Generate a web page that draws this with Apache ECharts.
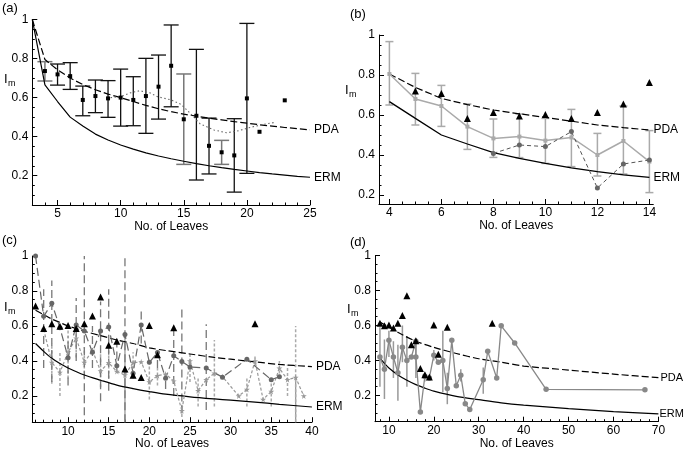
<!DOCTYPE html>
<html><head><meta charset="utf-8">
<script src="https://cdn.jsdelivr.net/npm/echarts@6/dist/echarts.min.js"></script>
<style>html,body{margin:0;padding:0;background:#fff}#c{width:685px;height:453px}</style>
</head><body><div id="c"></div>
<script>
// ---------- Panel (a) ----------
const aX    = [4,5,6,7,8,9,10,11,12,13,14,15,16,17,18,19,20,21,23];
const aMean = [0.736,0.719,0.71,0.588,0.608,0.596,0.6,0.588,0.608,0.656,0.763,0.489,0.507,0.353,0.32,0.304,0.596,0.425,0.586];
const aBarX    = [4,5,6,7,8,9,10,11,12,13,14,15,16,17,18,19,20];
const aBarLow  = [0.685,0.664,0.642,0.507,0.523,0.499,0.454,0.456,0.417,0.49,0.553,0.258,0.178,0.209,0.258,0.116,0.212];
const aBarHigh = [0.784,0.772,0.779,0.659,0.69,0.687,0.746,0.707,0.801,0.818,0.972,0.721,0.847,0.495,0.381,0.492,0.98];
const aGrayBarX = [4,15,18];
const aCurveX = [3,4,5,6,7,8,9,10,11,12,13,14,15,16,17,18,19,20,21,22,23,24,25];
const aErm = [1.0,0.665,0.58,0.5,0.455,0.413,0.383,0.357,0.336,0.317,0.301,0.287,0.274,0.262,0.251,0.241,0.232,0.224,0.216,0.209,0.203,0.197,0.192];
const aPda = [1.0,0.795,0.742,0.7,0.667,0.64,0.618,0.6,0.58,0.56,0.543,0.528,0.515,0.505,0.495,0.486,0.477,0.469,0.461,0.454,0.447,0.441,0.435];
const aDotX = [9.2,10,10.8,11.5,12.3,12.9,14,14.8,15.5,16.3,17.4,18.4,19.2,20.3,21.3,22.3];
const aDot  = [0.6,0.605,0.625,0.635,0.625,0.605,0.588,0.565,0.52,0.465,0.434,0.42,0.428,0.448,0.463,0.474];

// ---------- Panel (b) ----------
const bX = [4,5,6,7,8,9,10,11,12,13,14];
const bGray     = [0.805,0.68,0.645,0.542,0.483,0.492,0.472,0.488,0.40,0.47,0.367];
const bGrayLow  = [0.65,0.55,0.543,0.428,0.388,0.387,0.358,0.342,0.295,0.305,0.212];
const bGrayHigh = [0.967,0.808,0.748,0.655,0.58,0.605,0.583,0.628,0.508,0.645,0.522];
const bDotX = [8,9,10,11,12,13,14];
const bDot  = [0.408,0.45,0.442,0.517,0.235,0.355,0.375];
const bTriX = [5,6,7,8,9,10,11,12,13,14];
const bTri  = [0.72,0.708,0.583,0.612,0.595,0.603,0.583,0.612,0.655,0.762];
const bErm = [0.667,0.583,0.5,0.455,0.412,0.383,0.358,0.336,0.317,0.301,0.288];
const bPda = [0.805,0.738,0.683,0.652,0.625,0.606,0.588,0.569,0.55,0.537,0.525];

// ---------- Panel (c) ----------
const cTriX = [6,7,8,9,10,11,12,13,14,15,16,17,18,19,20,21,23,33];
const cTri  = [0.714,0.585,0.613,0.598,0.603,0.585,0.613,0.657,0.765,0.49,0.512,0.354,0.318,0.305,0.603,0.435,0.59,0.613];
const cDotX = [6,7,8,9,10,11,12,13,14,15,16,17,18,19,20,21,22,23,24,25,27,29,32,35,36];
const cDot  = [1.0,0.655,0.73,0.59,0.419,0.606,0.571,0.45,0.571,0.594,0.373,0.552,0.33,0.606,0.392,0.448,0.301,0.43,0.397,0.366,0.36,0.307,0.41,0.293,0.31];
const cDotBarX = [7,8,10,11,12,13,14,15,16,17,19,21,22,23,24,27];
const cDotBarLow  = [0.36,0.28,0.26,0.40,0.09,0.36,0.17,0.23,0.34,0.05,0.50,0.36,0.24,0.20,0.10,0.12];
const cDotBarHigh = [0.81,0.86,0.54,0.76,1.00,0.60,0.74,0.81,0.53,0.99,0.70,0.46,0.33,0.60,0.71,0.61];
const cStarX = [7,8,9,10,11,12,13,14,15,16,17,18,19,20,21,22,23,24,25,26,27,28,29,31,32,33,34,35,36,37,38,39];
const cStar  = [0.58,0.392,0.335,0.45,0.53,0.392,0.46,0.343,0.39,0.34,0.32,0.39,0.395,0.28,0.316,0.325,0.285,0.116,0.4,0.23,0.293,0.33,0.31,0.2,0.237,0.40,0.18,0.226,0.358,0.293,0.306,0.2];
const cStarBarX = [8,9,10,11,12,14,15,18,20,21,24,25,26,28,32,33,35,36,37,38];
const cStarBarLow  = [0.27,0.20,0.30,0.42,0.30,0.25,0.30,0.30,0.18,0.26,0.08,0.28,0.14,0.14,0.14,0.38,0.14,0.30,0.20,0.05];
const cStarBarHigh = [0.50,0.45,0.60,0.62,0.48,0.45,0.47,0.45,0.40,0.36,0.15,0.45,0.30,0.52,0.30,0.43,0.30,0.40,0.38,0.60];
const cSolidBarX = [17,38];
const cSolidBarLow = [0.05,0.05];
const cSolidBarHigh = [0.55,0.306];
const cCurveX = [6,7,8,9,10,12,14,16,18,20,22,25,28,30,33,36,40];
const cErm = [0.5,0.455,0.415,0.385,0.36,0.32,0.29,0.262,0.242,0.225,0.21,0.195,0.183,0.176,0.165,0.152,0.137];
const cPda = [0.69,0.665,0.64,0.62,0.6,0.57,0.545,0.52,0.5,0.475,0.46,0.44,0.42,0.41,0.395,0.38,0.368];

// ---------- Panel (d) ----------
const dTriX = [8,9,10,11,12,13,14,15,16,17,18,19,20,21,23,33];
const dTri  = [0.613,0.598,0.603,0.585,0.613,0.657,0.77,0.49,0.512,0.354,0.318,0.305,0.603,0.435,0.59,0.613];
const dGrayX = [8,9,10,11,12,13,14,15,16,16,17,18,19,20,21,22,23,24,25,26,27,28,31,32,34,35,38,45,67];
const dGray  = [0.42,0.35,0.515,0.42,0.33,0.475,0.40,0.42,0.51,0.42,0.105,0.31,0.30,0.43,0.39,0.40,0.24,0.515,0.255,0.315,0.152,0.12,0.29,0.452,0.30,0.598,0.5,0.235,0.232];
const dBarX = [8,9,10,11,12,13,14,16,18,20,22,23,26,31];
const dBarLow  = [0.25,0.18,0.42,0.30,0.17,0.39,0.25,0.30,0.28,0.40,0.22,0.15,0.28,0.21];
const dBarHigh = [0.59,0.52,0.57,0.51,0.49,0.60,0.54,0.50,0.33,0.46,0.57,0.33,0.35,0.36];
const dErmX = [8,9,10,12,14,16,18,20,25,30,35,40,50,60,70];
const dErm  = [0.413,0.383,0.357,0.317,0.287,0.262,0.242,0.225,0.195,0.176,0.158,0.145,0.125,0.108,0.095];
const dPdaX = [8,10,13,16,20,25,30,35,40,50,60,70];
const dPda  = [0.62,0.59,0.547,0.51,0.475,0.44,0.41,0.39,0.368,0.345,0.322,0.302];

// ---------- tick positions ----------
const aXMajor = [5,10,15,20,25];
const aXMinor = [4,6,7,8,9,11,12,13,14,16,17,18,19,21,22,23,24];
const bXMajor = [4,6,8,10,12,14];
const bXMinor = [4.5,5,5.5,6.5,7,7.5,8.5,9,9.5,10.5,11,11.5,12.5,13,13.5];
const cXMajor = [10,15,20,25,30,35,40];
const cXMinor = [6,7,8,9,11,12,13,14,16,17,18,19,21,22,23,24,26,27,28,29,31,32,33,34,36,37,38,39];
const dXMajor = [10,20,30,40,50,60,70];
const dXMinor = [8,12,14,16,18,22,24,26,28,32,34,36,38,42,44,46,48,52,54,56,58,62,64,66,68];
const yMajor = [0.2,0.4,0.6,0.8,1];
const yMinor = [0.05,0.1,0.15,0.25,0.3,0.35,0.45,0.5,0.55,0.65,0.7,0.75,0.85,0.9,0.95];

const FONT = '"Liberation Sans", Arial, Helvetica, sans-serif';
const xy = (xs, ys) => xs.map((x, i) => [x, ys[i]]);
const bars = (xs, lo, hi) => xs.map((x, i) => [x, lo[i], hi[i]]);

const grids = [
  {left: 32.3, top: 19.5, width: 277.7, height: 185.5},
  {left: 379, top: 35, width: 274.3, height: 169},
  {left: 32.3, top: 256, width: 279.6, height: 166.2},
  {left: 375, top: 255.5, width: 283.4, height: 166.2}
];
const xr = [[3,25,aXMajor,aXMinor,11],[3.6,14.15,bXMajor,bXMinor,13],[5.6,40,cXMajor,cXMinor,14],[6.9,70,dXMajor,dXMinor,14]];
const yr = [[0.05,1],[0.155,1],[0.05,1],[0.05,1]];

const xAxis = [], yAxis = [];
xr.forEach((r, g) => {
  xAxis.push({type:'value', gridIndex:g, min:r[0], max:r[1], position:'bottom',
    axisLine:{show:true, onZero:false, lineStyle:{color:'#000', width:1}},
    axisTick:{show:true, inside:true, length:5, customValues:r[2], lineStyle:{color:'#000'}},
    axisLabel:{customValues:r[2], color:'#000', fontSize:12, fontFamily:FONT, margin:3},
    splitLine:{show:false},
    name:'No. of Leaves', nameLocation:'middle', nameGap:r[4],
    nameTextStyle:{color:'#000', fontSize:12, fontFamily:FONT}});
  xAxis.push({type:'value', gridIndex:g, min:r[0], max:r[1], position:'bottom',
    axisLine:{show:false, onZero:false},
    axisTick:{show:true, inside:true, length:2.5, customValues:r[3], lineStyle:{color:'#000'}},
    axisLabel:{show:false}, splitLine:{show:false}});
});
yr.forEach((r, g) => {
  const minors = yMinor.filter(v => v >= r[0]);
  yAxis.push({type:'value', gridIndex:g, min:r[0], max:r[1], position:'left',
    axisLine:{show:true, onZero:false, lineStyle:{color:'#000', width:1}},
    axisTick:{show:true, inside:true, length:5, customValues:yMajor, lineStyle:{color:'#000'}},
    axisLabel:{customValues:yMajor, color:'#000', fontSize:12, fontFamily:FONT, margin:4},
    splitLine:{show:false}});
  yAxis.push({type:'value', gridIndex:g, min:r[0], max:r[1], position:'left',
    axisLine:{show:false, onZero:false},
    axisTick:{show:true, inside:true, length:2.5, customValues:minors, lineStyle:{color:'#000'}},
    axisLabel:{show:false}, splitLine:{show:false}});
});

function line(g, data, color, width, type, label, extra, dist, fs) {
  const s = {type:'line', xAxisIndex:2*g, yAxisIndex:2*g, data, showSymbol:false, symbol:'none',
    silent:true, animation:false, z:3,
    lineStyle:{color, width, type}};
  if (label) s.endLabel = {show:true, formatter:label, color:'#000', fontSize:(fs || 12), fontFamily:FONT, distance:(dist == null ? 4 : dist)};
  return Object.assign(s, extra || {});
}
function scat(g, data, symbol, size, color, z) {
  return {type:'scatter', xAxisIndex:2*g, yAxisIndex:2*g, data, symbol, symbolSize:size,
    itemStyle:{color, opacity:1}, silent:true, animation:false, z:z || 5};
}
function errb(g, data, color, width, dash, cap) {
  return {type:'custom', xAxisIndex:2*g, yAxisIndex:2*g, data, silent:true, animation:false, z:2,
    encode:{x:0, y:[1,2]},
    renderItem: function(params, api) {
      const x = api.value(0), lo = api.value(1), hi = api.value(2);
      const p1 = api.coord([x, lo]), p2 = api.coord([x, hi]);
      const st = {stroke:color, lineWidth:width, lineDash:dash, fill:null};
      const ch = [{type:'line', shape:{x1:p1[0], y1:p1[1], x2:p2[0], y2:p2[1]}, style:st}];
      if (cap) {
        ch.push({type:'line', shape:{x1:p1[0]-cap, y1:p1[1], x2:p1[0]+cap, y2:p1[1]}, style:{stroke:color, lineWidth:width, fill:null}});
        ch.push({type:'line', shape:{x1:p2[0]-cap, y1:p2[1], x2:p2[0]+cap, y2:p2[1]}, style:{stroke:color, lineWidth:width, fill:null}});
      }
      return {type:'group', children:ch};
    }};
}

const STAR = 'path://M50,0 L61,35 L98,35 L68,57 L79,91 L50,70 L21,91 L32,57 L2,35 L39,35 Z';

const aAllBars = bars(aBarX, aBarLow, aBarHigh);
const series = [
  // (a)
  line(0, xy(aCurveX, aErm), '#000', 1.2, 'solid', 'ERM'),
  line(0, xy(aCurveX, aPda), '#000', 1.2, [7,3], 'PDA'),
  line(0, xy(aDotX, aDot), '#666', 1.1, [1.5,2.5]),
  errb(0, aAllBars.filter(d => aGrayBarX.indexOf(d[0]) < 0), '#111', 1.3, null, 7.5),
  errb(0, aAllBars.filter(d => aGrayBarX.indexOf(d[0]) >= 0), '#777', 1.5, null, 7.5),
  scat(0, xy(aX, aMean), 'rect', 4, '#000'),
  // (b)
  line(1, xy(bX, bErm), '#000', 1.3, 'solid', 'ERM'),
  line(1, xy(bX, bPda), '#000', 1.2, [7,3], 'PDA'),
  errb(1, bars(bX, bGrayLow, bGrayHigh), '#aaa', 1.5, null, 4),
  line(1, xy(bX, bGray), '#aaa', 1.5, 'solid', null, {showSymbol:true, symbol:'rect', symbolSize:4, itemStyle:{color:'#aaa'}}),
  line(1, xy(bDotX, bDot), '#555', 1, [4,3], null, {showSymbol:true, symbol:'circle', symbolSize:5, itemStyle:{color:'#666'}}),
  scat(1, xy(bTriX, bTri), 'triangle', 7, '#000', 6),
  // (c)
  line(2, xy(cCurveX, cErm), '#000', 1.2, 'solid', 'ERM', {smooth:0.3}),
  line(2, xy(cCurveX, cPda), '#000', 1.2, [7,3], 'PDA', {smooth:0.3}),
  errb(2, bars(cSolidBarX, cSolidBarLow, cSolidBarHigh), '#999', 1.3, null, 0),
  errb(2, bars(cStarBarX, cStarBarLow, cStarBarHigh), '#aaa', 1.5, [3,2], 0),
  errb(2, bars(cDotBarX, cDotBarLow, cDotBarHigh), '#777', 1.3, [8,4], 0),
  line(2, xy(cStarX, cStar), '#999', 1.2, [3,2], null, {showSymbol:true, symbol:STAR, symbolSize:6, itemStyle:{color:'#999'}}),
  line(2, xy(cDotX, cDot), '#666', 1.2, [8,4], null, {showSymbol:true, symbol:'circle', symbolSize:5, itemStyle:{color:'#666'}}),
  scat(2, xy(cTriX, cTri), 'triangle', 7, '#000', 6),
  // (d)
  line(3, xy(dErmX, dErm), '#000', 1.2, 'solid', 'ERM', {smooth:0.3}, 1, 11),
  line(3, xy(dPdaX, dPda), '#000', 1.2, [7,3], 'PDA', {smooth:0.3}, 2, 11),
  errb(3, bars(dBarX, dBarLow, dBarHigh), '#999', 1.5, null, 0),
  line(3, xy(dGrayX, dGray), '#888', 1.3, 'solid', null, {showSymbol:true, symbol:'circle', symbolSize:5.5, itemStyle:{color:'#888'}}),
  scat(3, xy(dTriX, dTri), 'triangle', 7, '#000', 6)
];

function txt(x, y, s, size) {
  return {type:'text', x, y, silent:true, style:{text:s, fill:'#000', font:size + 'px ' + FONT, textVerticalAlign:'middle'}};
}
const graphic = [
  txt(2, 8, '(a)', 13), txt(350, 14, '(b)', 13), txt(2, 240, '(c)', 13), txt(350, 242, '(d)', 13),
  txt(4, 79, 'I', 13), txt(8, 84, 'm', 9),
  txt(345, 90, 'I', 13), txt(349, 95, 'm', 9),
  txt(4, 307, 'I', 13), txt(8, 312, 'm', 9),
  txt(347, 309, 'I', 13), txt(351, 314, 'm', 9)
];

const chart = echarts.init(document.getElementById('c'), null, {renderer:'canvas'});
chart.setOption({animation:false, backgroundColor:'#fff', grid:grids, xAxis, yAxis, series, graphic});
</script>
</body></html>
